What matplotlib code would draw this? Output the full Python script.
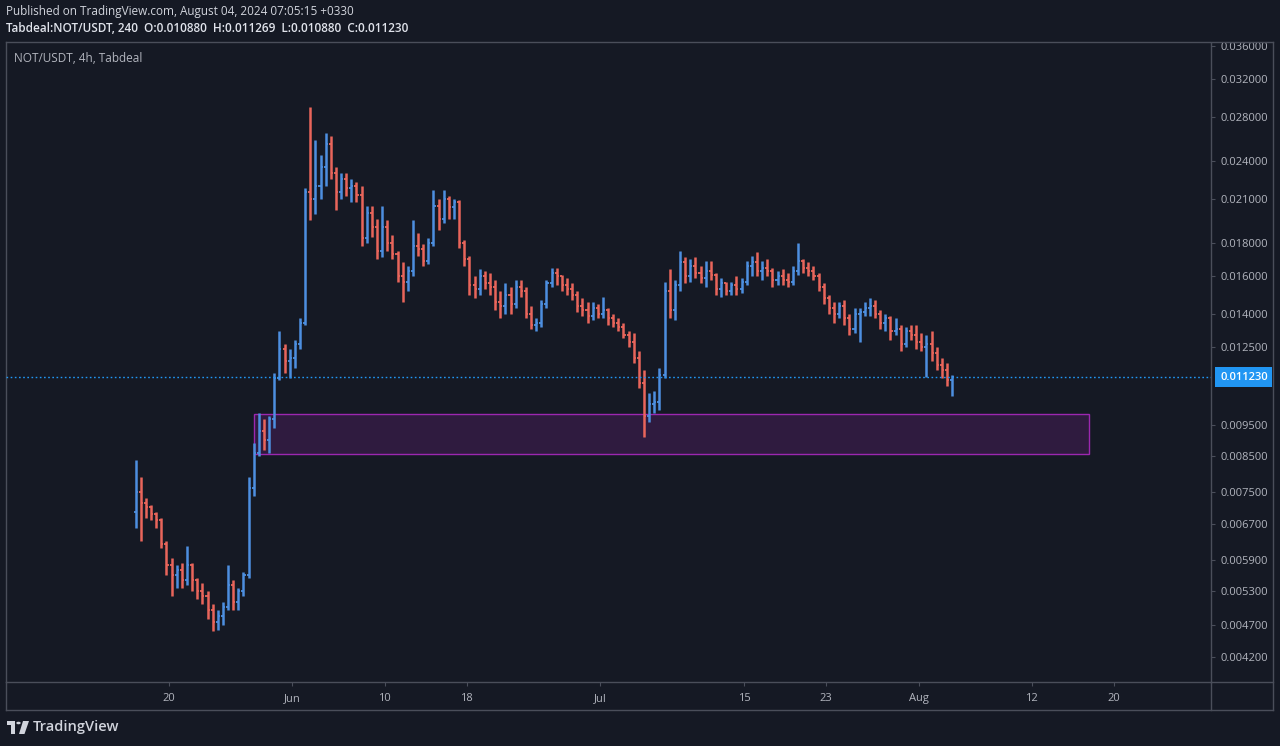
import matplotlib
matplotlib.use('Agg')
import matplotlib.pyplot as plt
import matplotlib.dates as mdates
import matplotlib.ticker as mticker
from matplotlib.patches import Rectangle, Polygon, Circle
from matplotlib.lines import Line2D
import numpy as np
import pandas as pd

# NOT/USDT bars (12h), prices in units of 0.001 USDT
bar_start = '2024-05-16 12:00'
opens = [
    7.0, 7.5, 7.2, 7.1, 6.95, 6.8, 6.25, 5.8, 5.6, 5.7,
    5.5, 5.8, 5.5, 5.3, 5.2, 4.95, 4.75, 4.85, 5.0, 5.4,
    5.1, 5.3, 5.6, 7.6, 8.6, 9.3, 9.0, 9.7, 11.2, 12.4,
    11.9, 12.0, 12.6, 13.6, 21.5, 21.0, 22.0, 23.5, 25.5, 23.0,
    21.5, 22.5, 21.8, 22.0, 21.3, 18.3, 20.0, 19.0, 17.5, 19.0,
    18.0, 17.3, 16.0, 15.7, 16.3, 17.8, 17.6, 16.9, 18.0, 20.5,
    19.6, 21.0, 20.4, 20.8, 18.0, 17.0, 15.5, 15.3, 16.0, 15.6,
    15.4, 14.6, 14.4, 15.0, 14.5, 15.4, 15.2, 14.0, 13.5, 13.6,
    14.5, 15.6, 16.2, 16.0, 15.5, 15.3, 15.0, 14.4, 14.2, 13.9,
    14.3, 14.0, 14.2, 13.8, 13.6, 13.4, 13.0, 12.7, 12.0, 11.0,
    9.8, 10.2, 10.3, 11.3, 15.2, 14.2, 15.5, 16.8, 16.0, 16.6,
    16.2, 15.9, 16.3, 16.1, 15.3, 15.6, 15.2, 15.5, 15.3, 15.7,
    16.6, 16.8, 16.3, 16.5, 16.3, 15.8, 16.0, 15.8, 15.7, 16.3,
    16.9, 16.5, 16.3, 16.0, 15.4, 14.8, 14.3, 14.0, 14.4, 13.8,
    13.3, 14.0, 14.1, 14.3, 14.4, 14.0, 13.6, 13.8, 13.2, 13.3,
    12.6, 13.2, 13.0, 12.7, 12.5, 12.6, 12.2, 11.7, 11.5, 11.1,
]
highs = [
    8.4, 7.9, 7.35, 7.15, 7.0, 6.85, 6.3, 5.95, 5.8, 5.85,
    6.2, 5.85, 5.55, 5.45, 5.3, 5.05, 4.95, 5.1, 5.8, 5.5,
    5.35, 5.65, 7.9, 8.9, 9.9, 9.7, 9.8, 11.4, 13.2, 12.6,
    12.4, 12.8, 13.8, 21.8, 29.0, 25.8, 24.5, 26.5, 26.2, 23.5,
    23.0, 23.0, 22.5, 22.3, 22.0, 20.5, 20.5, 19.6, 20.5, 19.5,
    18.5, 17.5, 16.8, 16.6, 19.5, 18.6, 17.9, 18.3, 21.7, 21.0,
    21.7, 21.2, 21.0, 20.9, 18.2, 17.2, 16.0, 16.4, 16.3, 16.2,
    15.8, 15.2, 15.6, 15.4, 15.8, 15.8, 15.4, 14.4, 13.8, 14.7,
    15.8, 16.5, 16.5, 16.1, 15.9, 15.6, 15.2, 14.8, 14.6, 14.6,
    14.5, 14.9, 14.3, 14.0, 13.8, 13.6, 13.2, 13.1, 12.3, 11.5,
    10.6, 10.7, 11.6, 15.7, 16.4, 15.8, 17.5, 17.1, 17.0, 17.1,
    16.6, 16.9, 16.9, 16.2, 15.9, 15.7, 15.7, 16.0, 15.9, 16.9,
    17.2, 17.4, 16.9, 17.0, 16.5, 16.3, 16.4, 16.2, 16.6, 18.0,
    17.0, 16.8, 16.6, 16.2, 15.6, 15.0, 14.6, 14.6, 14.7, 14.0,
    14.3, 14.3, 14.6, 14.8, 14.7, 14.2, 14.0, 13.9, 13.8, 13.5,
    13.4, 13.5, 13.5, 13.1, 13.0, 13.2, 12.5, 12.0, 11.8, 11.3,
]
lows = [
    6.6, 6.3, 6.85, 6.8, 6.6, 6.15, 5.6, 5.2, 5.35, 5.35,
    5.4, 5.3, 5.15, 5.05, 4.8, 4.6, 4.62, 4.7, 4.95, 4.95,
    4.95, 5.2, 5.55, 7.4, 8.5, 8.7, 8.6, 9.4, 11.1, 11.4,
    11.2, 11.6, 12.4, 13.5, 19.5, 19.9, 21.0, 22.0, 22.5, 20.2,
    21.0, 21.2, 20.8, 20.8, 17.8, 18.0, 18.4, 17.0, 17.1, 17.5,
    17.0, 15.7, 14.6, 15.2, 16.0, 17.2, 16.6, 16.7, 17.8, 18.8,
    19.3, 19.6, 19.6, 17.7, 16.6, 15.0, 14.8, 15.0, 15.3, 15.0,
    14.2, 13.8, 14.0, 14.0, 14.3, 14.9, 13.8, 13.3, 13.2, 13.4,
    14.3, 15.4, 15.5, 15.2, 15.0, 14.7, 14.1, 13.9, 13.6, 13.7,
    13.8, 13.8, 13.5, 13.4, 13.2, 12.9, 12.5, 11.8, 10.8, 9.1,
    9.6, 9.9, 10.0, 11.2, 13.8, 13.7, 15.2, 15.6, 15.7, 15.9,
    15.6, 15.4, 15.8, 15.0, 14.9, 15.0, 15.0, 15.0, 15.1, 15.5,
    16.0, 16.0, 15.8, 16.0, 15.4, 15.5, 15.5, 15.4, 15.5, 16.1,
    16.2, 16.0, 15.8, 15.2, 14.5, 14.0, 13.6, 13.8, 13.5, 13.0,
    13.1, 12.7, 13.9, 13.9, 13.8, 13.3, 13.2, 12.8, 13.0, 12.3,
    12.5, 12.8, 12.4, 12.3, 11.25, 11.9, 11.5, 11.2, 10.9, 10.5,
]
closes = [
    7.5, 7.2, 7.1, 6.95, 6.8, 6.25, 5.8, 5.6, 5.7, 5.5,
    5.8, 5.5, 5.3, 5.2, 4.95, 4.75, 4.85, 5.0, 5.4, 5.1,
    5.3, 5.6, 7.6, 8.6, 9.3, 9.0, 9.7, 11.2, 12.4, 11.9,
    12.0, 12.6, 13.6, 21.5, 21.0, 22.0, 23.5, 25.5, 23.0, 21.5,
    22.5, 21.8, 22.0, 21.3, 18.3, 20.0, 19.0, 17.5, 19.0, 18.0,
    17.3, 16.0, 15.7, 16.3, 17.8, 17.6, 16.9, 18.0, 20.5, 19.6,
    21.0, 20.4, 20.8, 18.0, 17.0, 15.5, 15.3, 16.0, 15.6, 15.4,
    14.6, 14.4, 15.0, 14.5, 15.4, 15.2, 14.0, 13.5, 13.6, 14.5,
    15.6, 16.2, 16.0, 15.5, 15.3, 15.0, 14.4, 14.2, 13.9, 14.3,
    14.0, 14.2, 13.8, 13.6, 13.4, 13.0, 12.7, 12.0, 11.0, 9.8,
    10.2, 10.3, 11.3, 15.2, 14.2, 15.5, 16.8, 16.0, 16.6, 16.2,
    15.9, 16.3, 16.1, 15.3, 15.6, 15.2, 15.5, 15.3, 15.7, 16.6,
    16.8, 16.3, 16.5, 16.3, 15.8, 16.0, 15.8, 15.7, 16.3, 16.9,
    16.5, 16.3, 16.0, 15.4, 14.8, 14.3, 14.0, 14.4, 13.8, 13.3,
    14.0, 14.1, 14.3, 14.4, 14.0, 13.6, 13.8, 13.2, 13.3, 12.6,
    13.2, 13.0, 12.7, 12.5, 12.6, 12.2, 11.7, 11.5, 11.1, 11.23,
]

last_price = 0.011230
zone_start = '2024-05-28 06:00'
zone_end = '2024-08-17 14:00'
zone_low = 0.00857
zone_high = 0.00986

price_ticks = [0.0042, 0.0047, 0.0053, 0.0059, 0.0067, 0.0075, 0.0085, 0.0095,
               0.0125, 0.014, 0.016, 0.018, 0.021, 0.024, 0.028, 0.032, 0.036]
date_ticks = ['2024-05-20', '2024-06-01', '2024-06-10', '2024-06-18', '2024-07-01',
              '2024-07-15', '2024-07-23', '2024-08-01', '2024-08-12', '2024-08-20']
date_labels = ['20', 'Jun', '10', '18', 'Jul', '15', '23', 'Aug', '12', '20']

# colours
BG = '#151924'
LINE = '#4a4e5a'
TXT = '#b2b5be'
UP = '#4d8fe0'
DN = '#e9655b'
LAST = '#2196f3'
ZONE = '#9c27b0'

plt.rcParams['font.family'] = ['Open Sans', 'DejaVu Sans']

W, H = 1280, 746
fig = plt.figure(figsize=(W / 100, H / 100), dpi=100, facecolor=BG)


def fx(px):
    return px / W


def fy(py):
    return 1 - py / H


ax = fig.add_axes([fx(6), fy(682), fx(1211) - fx(6), fy(42) - fy(682)])
ax.set_facecolor(BG)
ax.set_yscale('log')

# bars
t = pd.date_range(bar_start, periods=len(opens), freq='12h') + pd.Timedelta(hours=6)
x = mdates.date2num(t)
o = np.array(opens) * 1e-3
h = np.array(highs) * 1e-3
l = np.array(lows) * 1e-3
c = np.array(closes) * 1e-3
col = np.where(c >= o, UP, DN)
ax.vlines(x, l, h, colors=col, lw=1.8, zorder=3)
ax.hlines(o, x - 0.2, x, colors=col, lw=1.3, zorder=3)
ax.hlines(c, x, x + 0.2, colors=col, lw=1.3, zorder=3)

# zone
z0 = mdates.date2num(pd.Timestamp(zone_start))
z1 = mdates.date2num(pd.Timestamp(zone_end))
ax.add_patch(Rectangle((z0, zone_low), z1 - z0, zone_high - zone_low,
                       facecolor=(0.612, 0.153, 0.69, 0.2), edgecolor=ZONE, lw=1, zorder=2))

# last price line
ax.axhline(last_price, color=LAST, lw=1, ls=(0, (1.2, 1.8)), zorder=4)
ax.annotate('%.6f' % last_price, xy=(1, last_price), xycoords=('axes fraction', 'data'),
            xytext=(6.5, 0), textcoords='offset points', ha='left', va='center',
            fontsize=8, color='white', fontweight='semibold', annotation_clip=False,
            bbox=dict(boxstyle='square,pad=0.42', fc=LAST, ec='none'), zorder=10)

ax.set_xlim(mdates.date2num(pd.Timestamp('2024-05-04 03:00')),
            mdates.date2num(pd.Timestamp('2024-08-29 11:00')))
ax.set_ylim(0.003845, 0.03645)

ax.yaxis.tick_right()
ax.yaxis.set_major_locator(mticker.FixedLocator(price_ticks))
ax.yaxis.set_major_formatter(mticker.FixedFormatter(['%.6f' % v for v in price_ticks]))
ax.yaxis.set_minor_locator(mticker.NullLocator())
ax.set_xticks(mdates.date2num(pd.to_datetime(date_ticks)))
ax.set_xticklabels(date_labels)
ax.tick_params(axis='y', length=3, width=0.8, color=LINE, labelcolor=TXT, labelsize=8, pad=4)
ax.tick_params(axis='x', length=3, width=0.8, color=LINE, labelcolor=TXT, labelsize=8, pad=5)
for s in ax.spines.values():
    s.set_color(LINE)
    s.set_linewidth(1)

# hide the clipped top label above the chart frame
fig.patches.append(Rectangle((fx(1211), fy(42)), 1 - fx(1211), 1 - fy(42),
                             transform=fig.transFigure, facecolor=BG, edgecolor='none', zorder=5))

# outer frame of price / time scales
for (xa, ya, xb, yb) in [(6, 710, 1273, 710), (1273, 42, 1273, 710), (1211, 42, 1273, 42),
                         (6, 682, 6, 710), (1211, 682, 1211, 710), (1211, 682, 1273, 682)]:
    fig.lines.append(Line2D([fx(xa), fx(xb)], [fy(ya), fy(yb)], transform=fig.transFigure,
                            color=LINE, lw=1, zorder=6))

# texts
fig.text(fx(6), fy(12), 'Published on TradingView.com, August 04, 2024 07:05:15 +0330',
         fontsize=8.5, color='#d1d4dc', va='center', ha='left')
fig.text(fx(6), fy(28), 'Tabdeal:NOT/USDT, 240  O:0.010880  H:0.011269  L:0.010880  C:0.011230',
         fontsize=8.5, color='#e0e3eb', va='center', ha='left', fontweight='semibold')
fig.text(fx(14), fy(58), 'NOT/USDT, 4h, Tabdeal', fontsize=8.5, color=TXT, va='center', ha='left')

# TradingView logo
logo = '#d1d4dc'
fig.patches.append(Polygon([(fx(7), fy(721)), (fx(15), fy(721)), (fx(15), fy(734)),
                            (fx(11), fy(734)), (fx(11), fy(725)), (fx(7), fy(725))],
                           closed=True, transform=fig.transFigure, fc=logo, ec='none', zorder=6))
fig.patches.append(Circle((fx(18.5), fy(723)), 2.2 / W, transform=fig.transFigure,
                          fc=logo, ec='none', zorder=6))
fig.patches.append(Polygon([(fx(23), fy(721)), (fx(29), fy(721)), (fx(24.5), fy(734)),
                            (fx(19), fy(734))],
                           closed=True, transform=fig.transFigure, fc=logo, ec='none', zorder=6))
fig.text(fx(33), fy(727), 'TradingView', fontsize=10.5, color=logo, va='center', ha='left',
         fontweight='semibold')

fig.savefig('out.png', dpi=100, facecolor=BG)
